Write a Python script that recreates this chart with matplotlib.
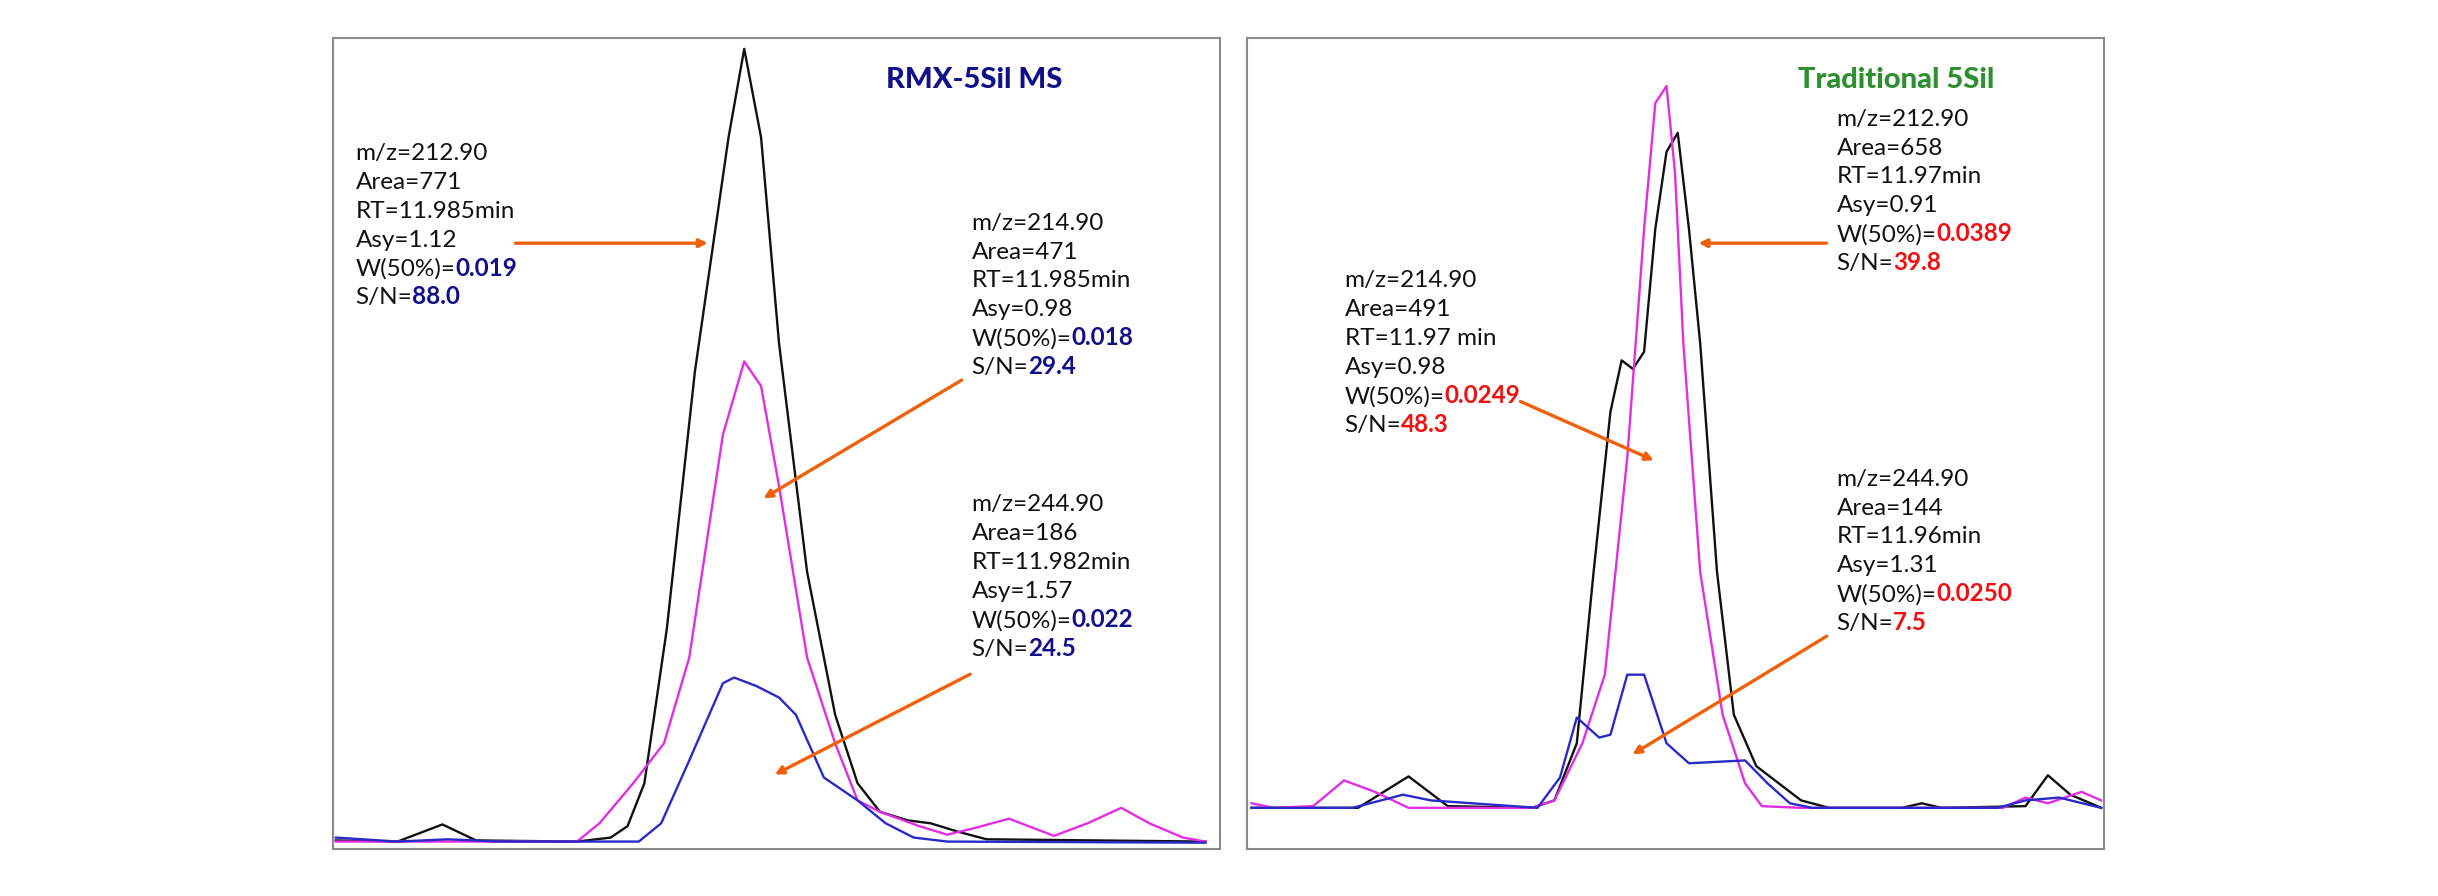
import matplotlib
matplotlib.use("Agg")
import matplotlib.pyplot as plt

plt.rcParams["font.family"] = ["Lato", "DejaVu Sans"]

# chromatogram traces (x: time units, y: plot units, inverted)
L_BLACK_X = [10, 120, 200, 260, 440, 500, 530, 560, 600, 650, 710, 738, 768, 800, 850, 900, 940, 980, 1030, 1070, 1120, 1170, 1560]
L_BLACK_Y = [1470, 1472, 1442, 1470, 1472, 1465, 1445, 1370, 1100, 650, 240, 85, 240, 600, 1000, 1250, 1370, 1420, 1435, 1440, 1455, 1468, 1472]
L_MAG_X = [10, 440, 480, 540, 595, 640, 700, 738, 768, 800, 850, 900, 940, 980, 1050, 1100, 1150, 1210, 1290, 1350, 1410, 1460, 1520, 1560]
L_MAG_Y = [1472, 1472, 1440, 1370, 1300, 1150, 760, 632, 675, 850, 1150, 1300, 1400, 1420, 1445, 1460, 1448, 1432, 1462, 1440, 1413, 1440, 1465, 1472]
L_BLUE_X = [10, 120, 210, 300, 550, 590, 640, 700, 720, 760, 800, 830, 880, 940, 990, 1040, 1100, 1560]
L_BLUE_Y = [1465, 1472, 1468, 1472, 1472, 1440, 1330, 1195, 1185, 1200, 1220, 1250, 1360, 1400, 1440, 1465, 1472, 1474]

R_BLACK_X = [20, 210, 300, 370, 520, 560, 600, 630, 660, 680, 700, 720, 740, 760, 780, 800, 820, 850, 880, 920, 960, 1000, 1050, 1180, 1215, 1250, 1400, 1440, 1480, 1535]
R_BLACK_Y = [1413, 1413, 1358, 1410, 1413, 1400, 1300, 1000, 720, 630, 645, 615, 400, 265, 232, 400, 600, 1000, 1250, 1340, 1370, 1400, 1413, 1413, 1405, 1413, 1410, 1356, 1390, 1413]
R_MAG_X = [20, 60, 130, 185, 240, 300, 520, 560, 610, 650, 690, 720, 740, 760, 775, 790, 820, 860, 900, 930, 1000, 1360, 1400, 1440, 1500, 1535]
R_MAG_Y = [1405, 1413, 1410, 1365, 1385, 1413, 1413, 1400, 1300, 1180, 800, 400, 180, 150, 300, 600, 1000, 1250, 1370, 1410, 1413, 1413, 1395, 1405, 1385, 1400]
R_BLUE_X = [20, 200, 290, 340, 530, 570, 600, 640, 660, 690, 720, 760, 800, 900, 940, 980, 1020, 1350, 1400, 1460, 1535]
R_BLUE_Y = [1413, 1413, 1390, 1400, 1413, 1360, 1255, 1290, 1285, 1180, 1180, 1300, 1335, 1330, 1370, 1405, 1413, 1413, 1400, 1395, 1413]

LEFT_TITLE = "RMX-5Sil MS"
RIGHT_TITLE = "Traditional 5Sil"

LEFT_BLOCKS = [
    [("m/z=212.90", ""), ("Area=771", ""), ("RT=11.985min", ""), ("Asy=1.12", ""), ("W(50%)=", "0.019"), ("S/N=", "88.0")],
    [("m/z=214.90", ""), ("Area=471", ""), ("RT=11.985min", ""), ("Asy=0.98", ""), ("W(50%)=", "0.018"), ("S/N=", "29.4")],
    [("m/z=244.90", ""), ("Area=186", ""), ("RT=11.982min", ""), ("Asy=1.57", ""), ("W(50%)=", "0.022"), ("S/N=", "24.5")],
]
RIGHT_BLOCKS = [
    [("m/z=212.90", ""), ("Area=658", ""), ("RT=11.97min", ""), ("Asy=0.91", ""), ("W(50%)=", "0.0389"), ("S/N=", "39.8")],
    [("m/z=214.90", ""), ("Area=491", ""), ("RT=11.97 min", ""), ("Asy=0.98", ""), ("W(50%)=", "0.0249"), ("S/N=", "48.3")],
    [("m/z=244.90", ""), ("Area=144", ""), ("RT=11.96min", ""), ("Asy=1.31", ""), ("W(50%)=", "0.0250"), ("S/N=", "7.5")],
]

BLACK, MAG, BLUE = "#111111", "#e22ee2", "#2a2ac8"
ORANGE = "#f0600a"
FS = 17.5


def block(ax, x, y0, lines, vcolor):
    for i, (lab, val) in enumerate(lines):
        t = ax.text(x, y0 + i * 50.5, lab, fontsize=FS, va="center", ha="left", color="#111111")
        if val:
            ax.annotate(val, xy=(1, 0), xycoords=t, va="bottom", ha="left",
                        fontsize=FS, fontweight="bold", color=vcolor)


def arrow(ax, start, end):
    ax.annotate("", xy=end, xytext=start,
                arrowprops=dict(arrowstyle="-|>", color=ORANGE, lw=2.4, mutation_scale=12))


fig = plt.figure(figsize=(24.38, 8.96), dpi=100)
axL = fig.add_axes([333 / 2438, 1 - 849 / 896, 887 / 2438, 811 / 896])
axR = fig.add_axes([1247 / 2438, 1 - 849 / 896, 857 / 2438, 811 / 896])

for ax, xmax in ((axL, 1586), (axR, 1540)):
    ax.set_xlim(5 if ax is axL else 12, xmax)
    ax.set_ylim(1485, 66)
    ax.set_xticks([])
    ax.set_yticks([])
    for s in ax.spines.values():
        s.set_color("#8a8a8a")
        s.set_linewidth(1.5)

for ax, traces in ((axL, [(L_BLACK_X, L_BLACK_Y, BLACK), (L_MAG_X, L_MAG_Y, MAG), (L_BLUE_X, L_BLUE_Y, BLUE)]),
                   (axR, [(R_BLACK_X, R_BLACK_Y, BLACK), (R_MAG_X, R_MAG_Y, MAG), (R_BLUE_X, R_BLUE_Y, BLUE)])):
    for xs, ys, c in traces:
        ax.plot(xs, ys, color=c, lw=1.7)

axL.text(990, 140, LEFT_TITLE, fontsize=21, fontweight="black", color="#10108a", ha="left", va="center")
axR.text(1170, 140, RIGHT_TITLE, fontsize=21, fontweight="black", color="#2e8f2e", ha="center", va="center")

navy = "#10108a"
block(axL, 45, 268, LEFT_BLOCKS[0], navy)
block(axL, 1143, 390, LEFT_BLOCKS[1], navy)
block(axL, 1143, 883, LEFT_BLOCKS[2], navy)
red = "#f01010"
block(axR, 1063, 208, RIGHT_BLOCKS[0], red)
block(axR, 186, 491, RIGHT_BLOCKS[1], red)
block(axR, 1063, 838, RIGHT_BLOCKS[2], red)

arrow(axL, (325, 425), (678, 425))
arrow(axL, (1130, 662), (768, 874))
arrow(axL, (1145, 1177), (788, 1357))
arrow(axR, (1050, 425), (812, 425))
arrow(axR, (495, 700), (742, 807))
arrow(axR, (1050, 1110), (695, 1322))

fig.savefig("out.png", dpi=100)
